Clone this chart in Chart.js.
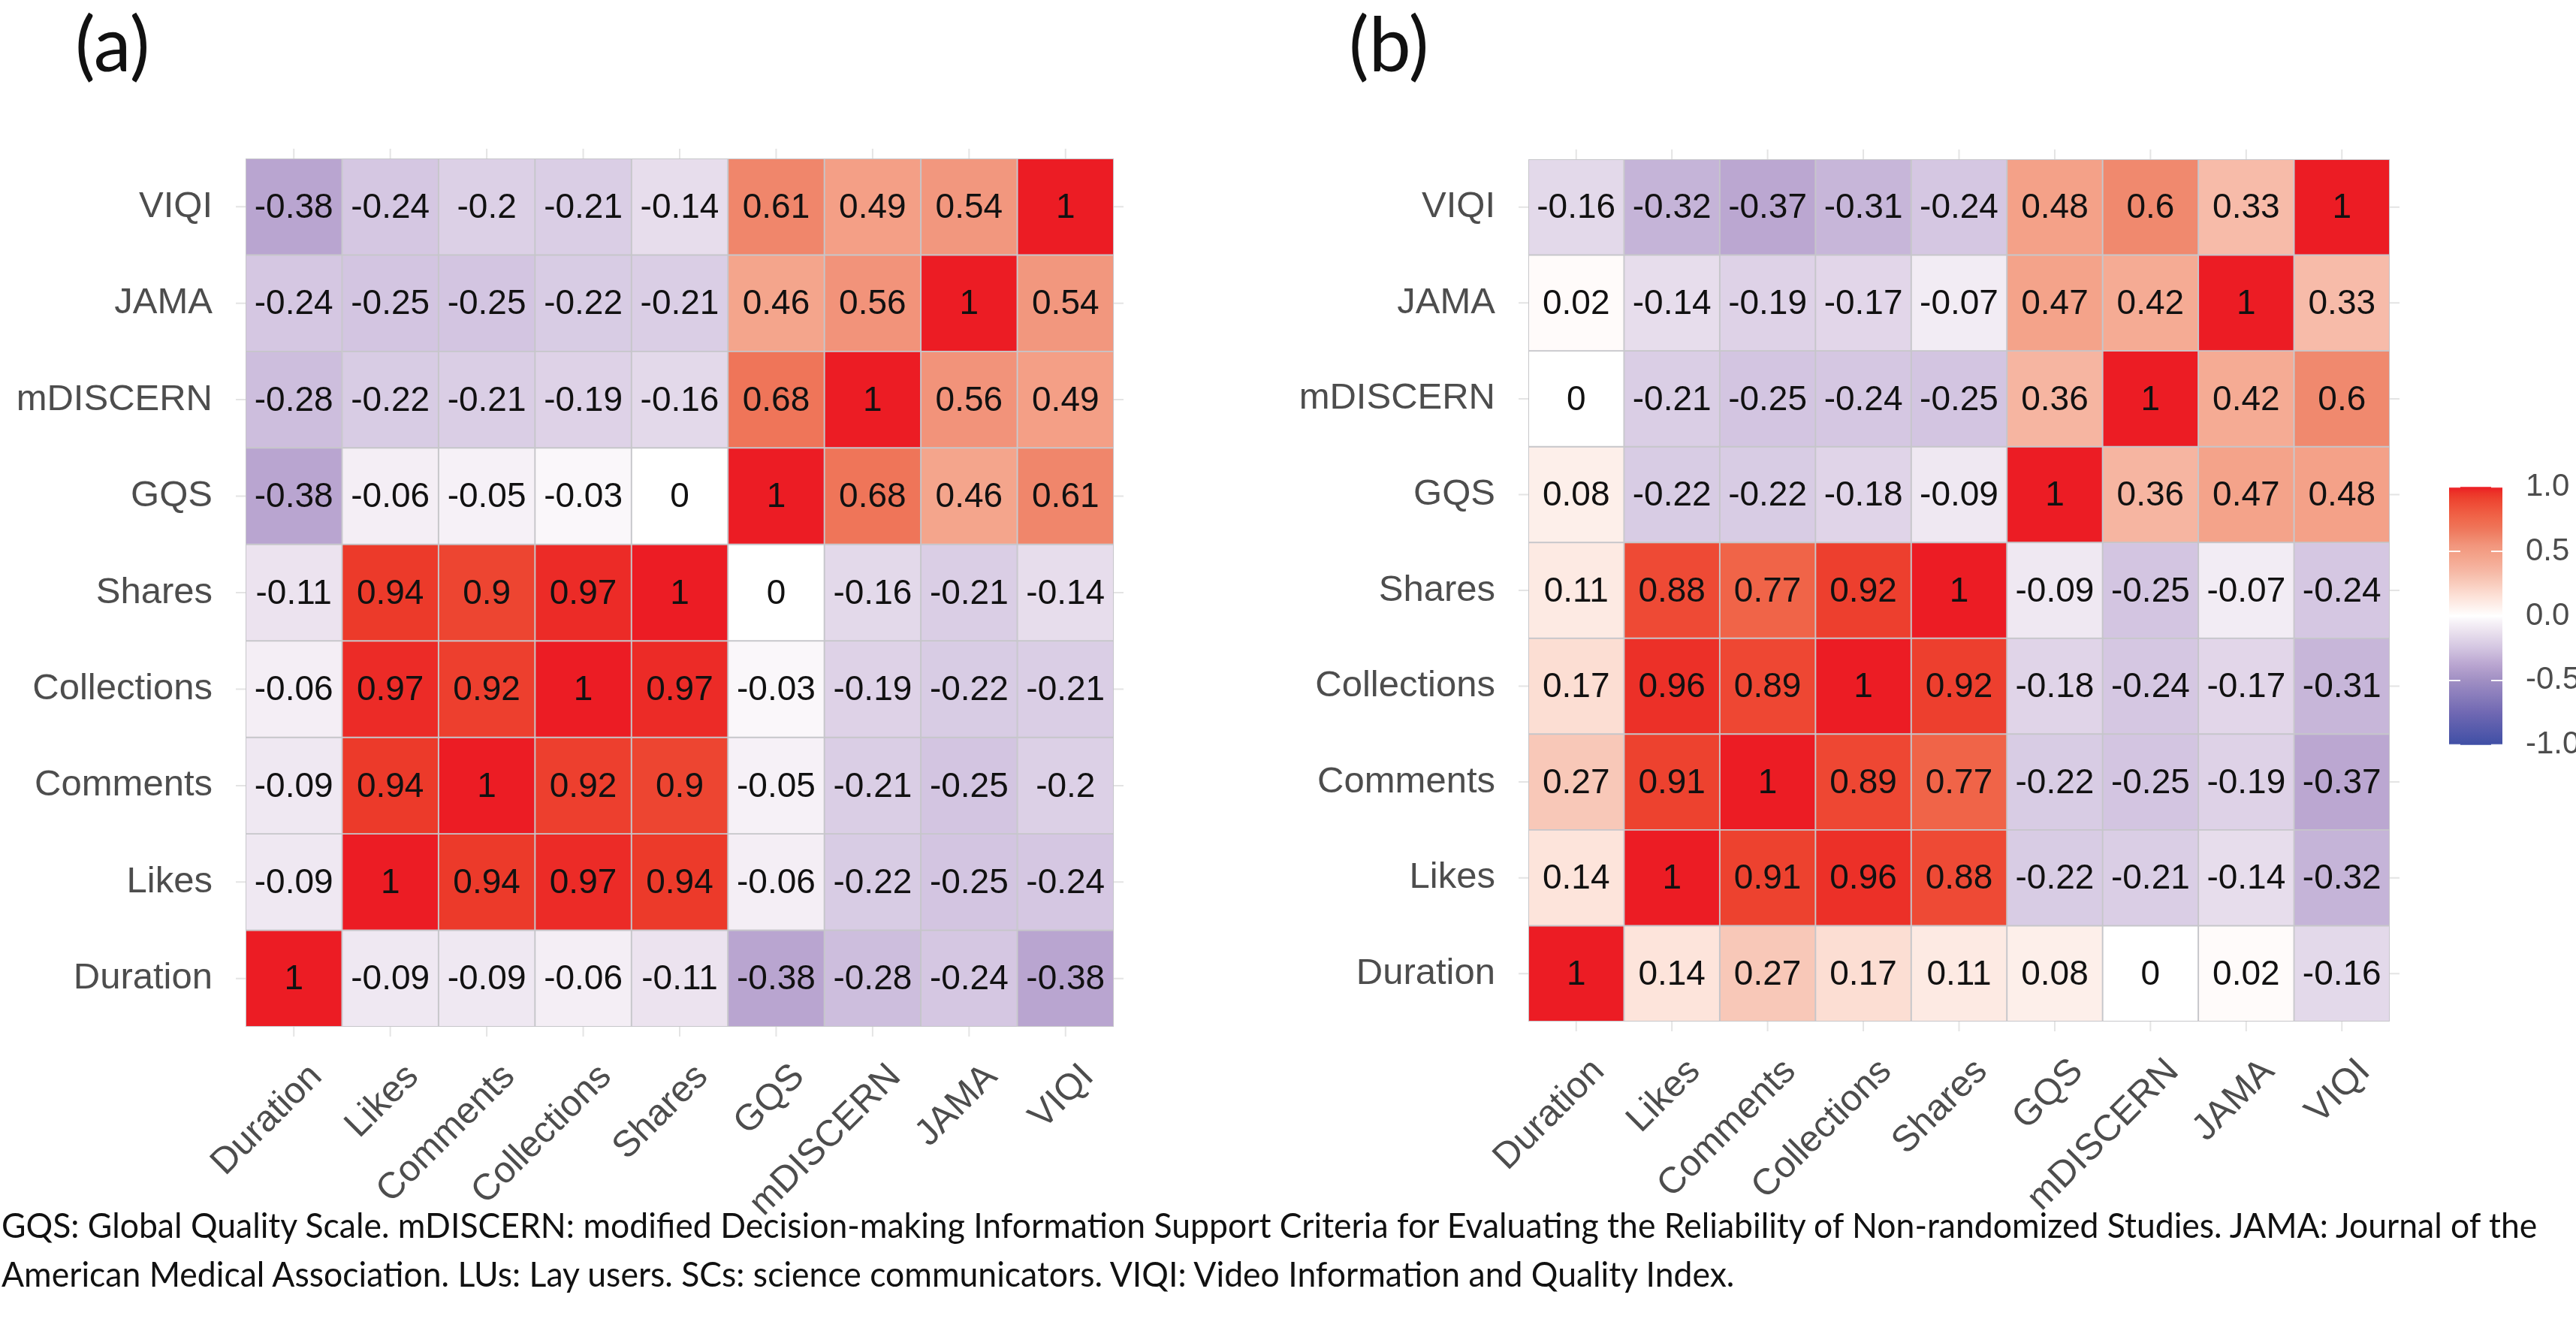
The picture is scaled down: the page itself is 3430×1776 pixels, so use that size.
<!DOCTYPE html>
<html lang="en">
<head>
  <meta charset="UTF-8" />
  <title>Correlation heatmaps (a) and (b)</title>
  <script src="https://cdn.jsdelivr.net/npm/chart.js@4.4.1/dist/chart.umd.min.js"></script>
  <style>
    body { margin: 0; background: #fff; width: 3430px; height: 1776px; position: relative; overflow: hidden; }
    .box { position: absolute; }
    .tag { position: absolute; top: 6px; font-family: Lato, "Open Sans", sans-serif; font-size: 100px; line-height: 1; color: #111; }
    #note { position: absolute; left: 2px; top: 1598px; font-family: Lato, "Open Sans", sans-serif; font-size: 47px;
            line-height: 65px; color: #111; white-space: nowrap; transform-origin: left top; }
  </style>
</head>
<body>

  <div class="tag" style="left:100px">(a)</div>
  <div class="tag" style="left:1796px">(b)</div>

  <!-- panel (a) -->
  <div class="box" style="left:0; top:0; width:1640px; height:1640px"><canvas id="heatA"></canvas></div>
  <!-- panel (b) -->
  <div class="box" style="left:1700px; top:0; width:1540px; height:1640px"><canvas id="heatB"></canvas></div>
  <!-- colour bar -->
  <div class="box" style="left:3230px; top:600px; width:200px; height:440px"><canvas id="colourBar"></canvas></div>

  <div id="note"><span id="noteLine1">GQS: Global Quality Scale. mDISCERN: modified Decision-making Information Support Criteria for Evaluating the Reliability of Non-randomized Studies. JAMA: Journal of the</span><br><span>American Medical Association. LUs: Lay users. SCs: science communicators. VIQI: Video Information and Quality Index.</span></div>

<script>
  // variables, bottom row / left column first
  const vars = ['Duration', 'Likes', 'Comments', 'Collections', 'Shares', 'GQS', 'mDISCERN', 'JAMA', 'VIQI'];

  // panel (a): one row per variable, in the order of vars
  const corrA = [
    [1, -0.09, -0.09, -0.06, -0.11, -0.38, -0.28, -0.24, -0.38],
    [-0.09, 1, 0.94, 0.97, 0.94, -0.06, -0.22, -0.25, -0.24],
    [-0.09, 0.94, 1, 0.92, 0.9, -0.05, -0.21, -0.25, -0.2],
    [-0.06, 0.97, 0.92, 1, 0.97, -0.03, -0.19, -0.22, -0.21],
    [-0.11, 0.94, 0.9, 0.97, 1, 0, -0.16, -0.21, -0.14],
    [-0.38, -0.06, -0.05, -0.03, 0, 1, 0.68, 0.46, 0.61],
    [-0.28, -0.22, -0.21, -0.19, -0.16, 0.68, 1, 0.56, 0.49],
    [-0.24, -0.25, -0.25, -0.22, -0.21, 0.46, 0.56, 1, 0.54],
    [-0.38, -0.24, -0.2, -0.21, -0.14, 0.61, 0.49, 0.54, 1]
  ];

  // panel (b)
  const corrB = [
    [1, 0.14, 0.27, 0.17, 0.11, 0.08, 0, 0.02, -0.16],
    [0.14, 1, 0.91, 0.96, 0.88, -0.22, -0.21, -0.14, -0.32],
    [0.27, 0.91, 1, 0.89, 0.77, -0.22, -0.25, -0.19, -0.37],
    [0.17, 0.96, 0.89, 1, 0.92, -0.18, -0.24, -0.17, -0.31],
    [0.11, 0.88, 0.77, 0.92, 1, -0.09, -0.25, -0.07, -0.24],
    [0.08, -0.22, -0.22, -0.18, -0.09, 1, 0.36, 0.47, 0.48],
    [0, -0.21, -0.25, -0.24, -0.25, 0.36, 1, 0.42, 0.6],
    [0.02, -0.14, -0.19, -0.17, -0.07, 0.47, 0.42, 1, 0.33],
    [-0.16, -0.32, -0.37, -0.31, -0.24, 0.48, 0.6, 0.33, 1]
  ];

  // colour bar ticks
  const barTicks = [-1, -0.5, 0, 0.5, 1];

  // blue - white - red scale, sampled from the printed figure
  const colourStops = [
    [-1.0, '#3f4fa5'], [-0.75, '#7068b3'], [-0.5, '#a08fc3'], [-0.38, '#b9a5d0'],
    [-0.25, '#d3c5e1'], [-0.14, '#e7ddec'], [-0.06, '#f4eef5'], [0, '#ffffff'],
    [0.08, '#fdefea'], [0.14, '#fde4db'], [0.27, '#f8c8b8'], [0.36, '#f6b5a1'],
    [0.47, '#f4a38a'], [0.56, '#f2937a'], [0.61, '#f0866b'], [0.68, '#ef7559'],
    [0.77, '#f06448'], [0.88, '#ee4a35'], [0.94, '#ec3a2a'], [1.0, '#ec1c24']
  ];

  function hexToRgb(h) {
    return [1, 3, 5].map(i => parseInt(h.substr(i, 2), 16));
  }

  function corrColour(v) {
    for (let i = 1; i < colourStops.length; i++) {
      const [v1, c1] = colourStops[i];
      if (v <= v1) {
        const [v0, c0] = colourStops[i - 1];
        const t = (v - v0) / (v1 - v0);
        const a = hexToRgb(c0), b = hexToRgb(c1);
        const m = a.map((x, k) => Math.round(x + (b[k] - x) * t));
        return `rgb(${m[0]}, ${m[1]}, ${m[2]})`;
      }
    }
    return colourStops[colourStops.length - 1][1];
  }

  const FONT = "'Liberation Sans', Arial, Helvetica, sans-serif";
  const AXIS_GREY = '#4d4d4d';

  // numbers inside the tiles
  const cellText = {
    id: 'cellText',
    afterDatasetsDraw(chart) {
      const ctx = chart.ctx;
      ctx.save();
      ctx.font = `46px ${FONT}`;
      ctx.fillStyle = '#111';
      ctx.textAlign = 'center';
      ctx.textBaseline = 'middle';
      chart.data.datasets.forEach((ds, r) => {
        chart.getDatasetMeta(r).data.forEach((bar, c) => {
          const p = bar.getProps(['x', 'y', 'base'], true);
          ctx.fillText(String(ds.values[c]), p.x, (p.y + p.base) / 2 + 2);
        });
      });
      ctx.restore();
    }
  };

  // faint panel grid stubs that show just outside the tiles
  const gridStubs = {
    id: 'gridStubs',
    beforeDatasetsDraw(chart) {
      const {ctx, chartArea: a, scales} = chart;
      const len = 13;
      ctx.save();
      ctx.strokeStyle = '#e4e4e4';
      ctx.lineWidth = 2;
      ctx.beginPath();
      vars.forEach((_, i) => {
        const x = scales.x.getPixelForTick(i);
        const y = scales.y.getPixelForValue(i + 0.5);
        ctx.moveTo(x, a.top - len); ctx.lineTo(x, a.top);
        ctx.moveTo(x, a.bottom); ctx.lineTo(x, a.bottom + len);
        ctx.moveTo(a.left - len, y); ctx.lineTo(a.left, y);
        ctx.moveTo(a.right, y); ctx.lineTo(a.right + len, y);
      });
      ctx.stroke();
      ctx.restore();
    }
  };

  function makeHeatmap(id, matrix, box) {
    new Chart(document.getElementById(id), {
      type: 'bar',
      data: {
        labels: vars,
        datasets: vars.map((name, r) => ({
          label: name,
          values: matrix[r],
          data: matrix[r].map(() => [r, r + 1]),
          backgroundColor: matrix[r].map(corrColour),
          borderColor: '#c6c6ca',
          borderWidth: 1.3,
          borderSkipped: false,
          grouped: false,
          barPercentage: 1,
          categoryPercentage: 1
        }))
      },
      options: {
        responsive: true,
        maintainAspectRatio: false,
        animation: false,
        layout: { padding: { left: 0, top: box.top, right: box.right, bottom: 0 } },
        plugins: { legend: { display: false }, tooltip: { enabled: false } },
        scales: {
          x: {
            grid: { display: false },
            border: { display: false },
            ticks: {
              autoSkip: false, minRotation: 45, maxRotation: 45,
              labelOffset: 30, padding: 30,
              color: AXIS_GREY, font: { family: FONT, size: 49 }
            },
            afterFit: s => { s.height = box.xHeight; }
          },
          y: {
            type: 'linear', min: 0, max: 9,
            grid: { display: false },
            border: { display: false },
            afterBuildTicks: s => { s.ticks = vars.map((_, i) => ({ value: i + 0.5 })); },
            ticks: {
              autoSkip: false, padding: 36,
              color: AXIS_GREY, font: { family: FONT, size: 49 },
              callback: v => vars[Math.floor(v)]
            },
            afterFit: s => { s.width = box.yWidth; }
          }
        }
      },
      plugins: [gridStubs, cellText]
    });
  }

  makeHeatmap('heatA', corrA, { top: 211, right: 1640 - 1483, yWidth: 327, xHeight: 1640 - 1367 });
  makeHeatmap('heatB', corrB, { top: 212, right: 1540 - 1482, yWidth: 335, xHeight: 1640 - 1360 });

  // white tick marks across the colour bar
  const barMarks = {
    id: 'barMarks',
    afterDatasetsDraw(chart) {
      const {ctx, chartArea: a, scales} = chart;
      ctx.save();
      ctx.strokeStyle = 'rgba(255,255,255,0.9)';
      ctx.lineWidth = 2;
      ctx.beginPath();
      barTicks.forEach(v => {
        const y = scales.y.getPixelForValue(v);
        ctx.moveTo(a.left, y); ctx.lineTo(a.left + 15, y);
        ctx.moveTo(a.right - 15, y); ctx.lineTo(a.right, y);
      });
      ctx.stroke();
      ctx.restore();
    }
  };

  new Chart(document.getElementById('colourBar'), {
    type: 'bar',
    data: {
      labels: [''],
      datasets: [{
        data: [[barTicks[0], barTicks[barTicks.length - 1]]],
        borderWidth: 0,
        barPercentage: 1,
        categoryPercentage: 1,
        backgroundColor: c => {
          const area = c.chart.chartArea;
          if (!area) return '#fff';
          const g = c.chart.ctx.createLinearGradient(0, area.bottom, 0, area.top);
          for (let i = 0; i <= 40; i++) g.addColorStop(i / 40, corrColour(-1 + i / 20));
          return g;
        }
      }]
    },
    options: {
      responsive: true,
      maintainAspectRatio: false,
      animation: false,
      layout: { padding: { left: 31, top: 43, bottom: 45, right: 0 } },
      plugins: { legend: { display: false }, tooltip: { enabled: false } },
      scales: {
        x: { display: false },
        y: {
          position: 'right', min: -1, max: 1,
          grid: { display: false },
          border: { display: false },
          afterBuildTicks: s => { s.ticks = barTicks.map(v => ({ value: v })); },
          ticks: {
            padding: 23, color: AXIS_GREY, font: { family: FONT, size: 42 },
            callback: v => v.toFixed(1)
          },
          afterFit: s => { s.width = 98; }
        }
      }
    },
    plugins: [barMarks]
  });

  // squeeze the footnote to the width it has in the figure
  const note = document.getElementById('note');
  const line1 = document.getElementById('noteLine1');
  note.style.transform = `scaleX(${3376 / line1.offsetWidth})`;
</script>
</body>
</html>
